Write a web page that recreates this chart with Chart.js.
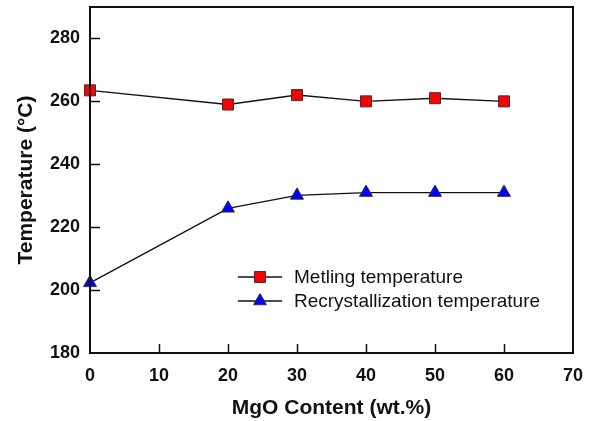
<!DOCTYPE html>
<html lang="en">
<head>
  <meta charset="UTF-8">
  <title>MgO Content vs Temperature</title>
  <style>
    html, body { margin: 0; padding: 0; background: #fff; }
    .card { width: 592px; height: 421px; position: relative; }
  </style>
</head>
<body>
  <div class="card">
    <canvas id="tempChart"></canvas>
  </div>
</body>
</html>
<script src="https://cdn.jsdelivr.net/npm/chart.js"></script>
<script>
  // dados
  const mgo = [0, 20, 30, 40, 50, 60];
  const melting = [263.5, 259, 262, 260, 261, 260];
  const recryst = [202.3, 226, 230.1, 231, 231, 231];
  const xTicks = [0, 10, 20, 30, 40, 50, 60, 70];
  const yTicks = [180, 200, 220, 240, 260, 280];

  const FONT = 'Liberation Sans, Arial, sans-serif';

  // moldura, marcas internas e legenda
  const framePlugin = {
    id: 'frame',
    afterDraw(chart) {
      const ctx = chart.ctx;
      const a = chart.chartArea;
      const x = chart.scales.x, y = chart.scales.y;
      ctx.save();
      ctx.strokeStyle = '#111';
      ctx.lineWidth = 2;
      ctx.strokeRect(a.left, a.top, a.right - a.left, a.bottom - a.top);
      ctx.lineWidth = 1.5;
      ctx.beginPath();
      xTicks.forEach(v => {
        if (v === 0 || v === 70) return;
        const px = Math.round(x.getPixelForValue(v)) + 0.5;
        ctx.moveTo(px, a.bottom);
        ctx.lineTo(px, a.bottom - 9);
      });
      yTicks.forEach(v => {
        if (v === 180) return;
        const py = Math.round(y.getPixelForValue(v)) + 0.5;
        ctx.moveTo(a.left, py);
        ctx.lineTo(a.left + 10, py);
      });
      ctx.stroke();

      // legenda
      const lx = a.left + 148, ly = a.top + 270;
      chart.data.datasets.forEach((ds, i) => {
        const yy = ly + i * 24;
        ctx.strokeStyle = '#111';
        ctx.lineWidth = 1.5;
        ctx.beginPath();
        ctx.moveTo(lx, yy);
        ctx.lineTo(lx + 44, yy);
        ctx.stroke();
        ctx.fillStyle = ds.pointBackgroundColor;
        ctx.strokeStyle = ds.pointBorderColor;
        ctx.lineWidth = 1;
        Chart.helpers.drawPoint(ctx, { pointStyle: ds.pointStyle, radius: ds.pointRadius, borderWidth: 1 }, lx + 22, yy);
        ctx.fillStyle = '#111';
        ctx.font = '19px ' + FONT;
        ctx.textAlign = 'left';
        ctx.textBaseline = 'middle';
        ctx.fillText(ds.label, lx + 56, yy + 1);
      });
      ctx.restore();
    }
  };

  const ctx = document.getElementById('tempChart').getContext('2d');
  new Chart(ctx, {
    type: 'line',
    data: {
      datasets: [{
        label: 'Metling temperature',
        data: mgo.map((m, i) => ({ x: m, y: melting[i] })),
        borderColor: '#111',
        borderWidth: 1.4,
        pointStyle: 'rect',
        pointRadius: 7.8,
        pointBackgroundColor: '#ff0000',
        pointBorderColor: '#333',
        pointBorderWidth: 1,
        tension: 0,
        clip: false
      }, {
        label: 'Recrystallization temperature',
        data: mgo.map((m, i) => ({ x: m, y: recryst[i] })),
        borderColor: '#111',
        borderWidth: 1.4,
        pointStyle: 'triangle',
        pointRadius: 7.5,
        pointBackgroundColor: '#0000ff',
        pointBorderColor: '#333',
        pointBorderWidth: 1,
        tension: 0,
        clip: false
      }]
    },
    options: {
      responsive: true,
      maintainAspectRatio: false,
      animation: false,
      layout: { autoPadding: false, padding: { top: 7, right: 19, left: 0, bottom: 0 } },
      plugins: {
        legend: { display: false },
        tooltip: { enabled: false }
      },
      scales: {
        x: {
          type: 'linear',
          min: 0,
          max: 70,
          afterBuildTicks: s => { s.ticks = xTicks.map(v => ({ value: v })); },
          afterFit: s => { s.height = 68; s.paddingLeft = 0; s.paddingRight = 0; },
          grid: { display: false, drawTicks: false, tickLength: 0 },
          border: { display: false },
          ticks: { color: '#111', font: { family: FONT, size: 18, weight: 'bold' }, padding: 12, maxRotation: 0 },
          title: { display: true, text: 'MgO Content (wt.%)', color: '#111', font: { family: FONT, size: 21, weight: 'bold' }, padding: { top: 8, bottom: 0 } }
        },
        y: {
          min: 180,
          max: 290,
          afterBuildTicks: s => { s.ticks = yTicks.map(v => ({ value: v })); },
          afterFit: s => { s.width = 90; s.paddingTop = 0; s.paddingBottom = 0; },
          grid: { display: false, drawTicks: false, tickLength: 0 },
          border: { display: false },
          ticks: { color: '#111', font: { family: FONT, size: 18, weight: 'bold' }, padding: 10 },
          title: { display: true, text: 'Temperature (°C)', color: '#111', font: { family: FONT, size: 21, weight: 'bold' }, padding: { top: 14, bottom: 8 } }
        }
      }
    },
    plugins: [framePlugin]
  });
</script>
